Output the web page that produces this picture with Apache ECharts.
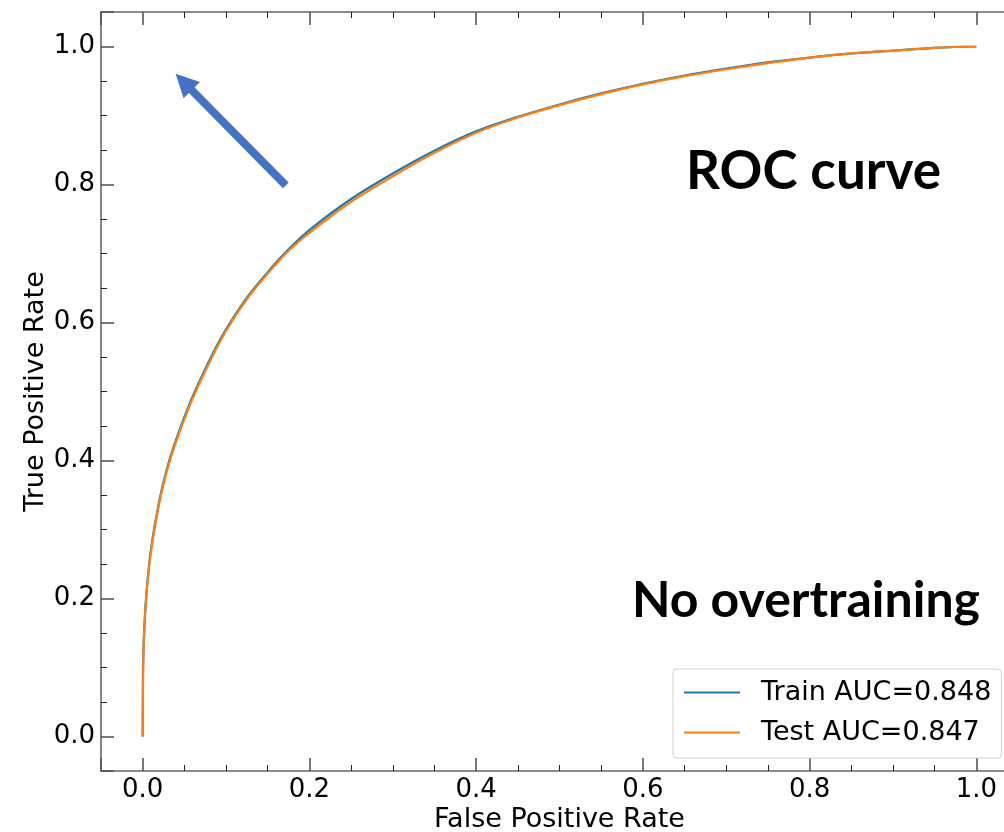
<!DOCTYPE html>
<html>
<head>
<meta charset="utf-8">
<script src="https://cdn.jsdelivr.net/npm/echarts@6/dist/echarts.min.js"></script>
<style>
  html, body { margin: 0; padding: 0; background: #fff; }
  #chart { width: 1004px; height: 832px; }
</style>
</head>
<body>
<div id="chart"></div>
<script>
// ROC curves of the classifier on the training and test samples
const fpr = [
  0, 0.0005, 0.002, 0.005, 0.01, 0.02, 0.03, 0.04, 0.05, 0.06,
  0.08, 0.10, 0.125, 0.15, 0.175, 0.2, 0.25, 0.3, 0.35, 0.4,
  0.45, 0.5, 0.55, 0.6, 0.65, 0.7, 0.75, 0.8, 0.85, 0.9,
  0.95, 1.0
];
const tprTrain = [
  0, 0.100, 0.160, 0.215, 0.272, 0.342, 0.392, 0.430, 0.463, 0.493,
  0.545, 0.590, 0.636, 0.673, 0.706, 0.734, 0.779, 0.816, 0.849, 0.877,
  0.898, 0.916, 0.932, 0.946, 0.958, 0.968, 0.977, 0.984, 0.990, 0.994,
  0.998, 1.0
];
const tprTest = [
  0, 0.098, 0.157, 0.212, 0.269, 0.339, 0.389, 0.427, 0.460, 0.490,
  0.542, 0.588, 0.634, 0.671, 0.704, 0.730, 0.775, 0.812, 0.846, 0.875,
  0.897, 0.915, 0.931, 0.945, 0.957, 0.967, 0.976, 0.984, 0.990, 0.994,
  0.998, 1.0
];
const seriesNames = ['Train AUC=0.848', 'Test AUC=0.847'];
const axisRange = [-0.05, 1.05];

// annotation arrow pointing towards the ideal corner (tail -> head)
const arrowTail = [0.1717, 0.7988];
const arrowHead = [0.0492, 0.9486];

const FONT = 'DejaVu Sans';

function tickFmt(v) {
  if (v < -1e-9 || v > 1 + 1e-9) return '';
  return v.toFixed(1);
}

const axisLineStyle = { color: '#666', width: 1.6 };
const majorTick = { show: true, inside: true, length: 13, lineStyle: { color: '#555', width: 1.6 } };
const minorTick = { show: true, splitNumber: 4, length: 6, lineStyle: { color: '#222', width: 1 } };

const chart = echarts.init(document.getElementById('chart'), null, { renderer: 'canvas' });

chart.setOption({
  animation: false,
  backgroundColor: '#fff',
  grid: {
    left: 101, top: 12, width: 917, height: 759,
    outerBoundsMode: 'none', containLabel: false
  },
  xAxis: [
    {
      type: 'value', min: axisRange[0], max: axisRange[1], position: 'bottom',
      name: 'False Positive Rate', nameLocation: 'middle', nameGap: 35, nameMoveOverlap: false,
      nameTextStyle: { fontFamily: FONT, fontSize: 27, color: '#000' },
      axisLine: { show: true, onZero: false, lineStyle: axisLineStyle },
      axisTick: majorTick, minorTick: minorTick,
      axisLabel: { show: true, margin: 6, formatter: tickFmt, fontFamily: FONT, fontSize: 26, color: '#000' },
      splitLine: { show: false }
    },
    {
      type: 'value', min: axisRange[0], max: axisRange[1], position: 'top',
      axisLine: { show: true, onZero: false, lineStyle: axisLineStyle },
      axisTick: majorTick, minorTick: minorTick,
      axisLabel: { show: false }, splitLine: { show: false }
    }
  ],
  yAxis: [
    {
      type: 'value', min: axisRange[0], max: axisRange[1], position: 'left',
      name: 'True Positive Rate', nameLocation: 'middle', nameGap: 52, nameMoveOverlap: false,
      nameTextStyle: { fontFamily: FONT, fontSize: 27, color: '#000' },
      axisLine: { show: true, onZero: false, lineStyle: axisLineStyle },
      axisTick: majorTick, minorTick: minorTick,
      axisLabel: { show: true, margin: 6, formatter: tickFmt, fontFamily: FONT, fontSize: 26, color: '#000' },
      splitLine: { show: false }
    },
    {
      type: 'value', min: axisRange[0], max: axisRange[1], position: 'right',
      axisLine: { show: true, onZero: false, lineStyle: axisLineStyle },
      axisTick: majorTick, minorTick: minorTick,
      axisLabel: { show: false }, splitLine: { show: false }
    }
  ],
  legend: {
    data: seriesNames,
    orient: 'vertical',
    left: 673, top: 669,
    padding: [8, 10, 10, 10],
    itemWidth: 56, itemHeight: 14, itemGap: 9,
    backgroundColor: '#fff',
    borderColor: '#d0d0d0', borderWidth: 1, borderRadius: 4,
    itemStyle: { opacity: 0 },
    lineStyle: { width: 2 },
    textStyle: { fontFamily: FONT, fontSize: 27, color: '#000', lineHeight: 31, padding: [0, 0, 0, 16] }
  },
  series: [
    {
      name: seriesNames[0], type: 'line', xAxisIndex: 0, yAxisIndex: 0,
      data: fpr.map((x, i) => [x, tprTrain[i]]),
      symbol: 'none', showSymbol: false, smooth: 0.25,
      lineStyle: { color: '#1f77b4', width: 2.2 }, itemStyle: { color: '#1f77b4' },
      z: 2,
      markLine: {
        silent: true, animation: false,
        symbol: ['none', 'triangle'], symbolSize: [23, 23],
        label: { show: false },
        lineStyle: { color: '#4472C4', width: 8, type: 'solid' },
        emphasis: { disabled: true },
        data: [[{ coord: arrowTail }, { coord: arrowHead }]]
      }
    },
    {
      name: seriesNames[1], type: 'line', xAxisIndex: 0, yAxisIndex: 0,
      data: fpr.map((x, i) => [x, tprTest[i]]),
      symbol: 'none', showSymbol: false, smooth: 0.25,
      lineStyle: { color: '#ff7f0e', width: 2.2 }, itemStyle: { color: '#ff7f0e' },
      z: 3
    }
  ],
  graphic: [
    {
      type: 'text', x: 941, y: 172, z: 100,
      style: { text: 'ROC curve', font: 'bold 53px Lato', fill: '#000', align: 'right', verticalAlign: 'middle' }
    },
    {
      type: 'text', x: 980, y: 601, z: 100,
      style: { text: 'No overtraining', font: 'bold 50px Lato', fill: '#000', align: 'right', verticalAlign: 'middle' }
    }
  ]
});
</script>
</body>
</html>
